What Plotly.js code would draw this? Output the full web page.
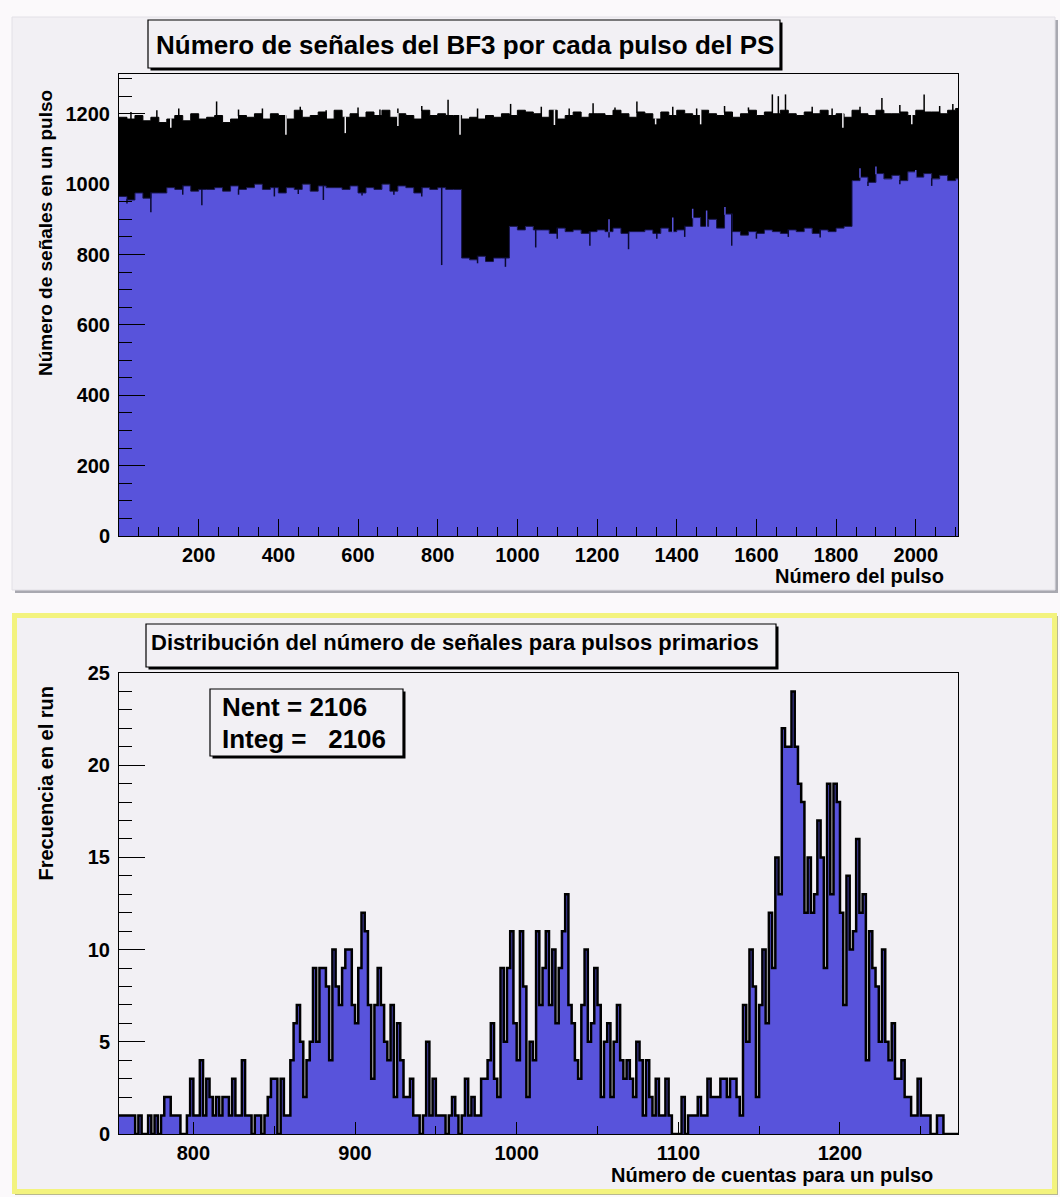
<!DOCTYPE html>
<html>
<head>
<meta charset="utf-8">
<script src="https://cdn.plot.ly/plotly-3.0.1.min.js"></script>
<style>
html,body{margin:0;padding:0;background:#fbf9fb;}
#chart{width:1060px;height:1197px;}
</style>
</head>
<body>
<div id="chart"></div>
<script>
// ---------------- DATA ----------------
// Top histogram: signals per PS pulse, sampled in steps of 20 pulses (start pulse = index*20)
const pulseStep = 20;
const pulseMax = 2106;
const upperEnvelope = [
 1190,1185,1195,1180,1190,1175,1185,1195,1180,1200,
 1185,1190,1195,1175,1185,1195,1190,1200,1185,1200,
 1195,1185,1210,1190,1195,1205,1185,1210,1190,1200,
 1190,1205,1195,1210,1190,1200,1195,1185,1210,1195,
 1200,1195,1195,1185,1190,1185,1195,1190,1200,1195,
 1210,1205,1200,1190,1210,1185,1195,1205,1190,1200,
 1200,1195,1210,1200,1190,1205,1200,1185,1205,1195,
 1210,1200,1195,1210,1200,1195,1205,1190,1200,1210,
 1195,1205,1200,1210,1200,1195,1205,1200,1210,1195,
 1200,1190,1210,1200,1195,1210,1200,1200,1205,1195,
 1210,1205,1205,1200,1210,1215
];
const lowerEnvelope = [
 965,955,975,960,975,975,990,985,995,980,
 985,985,990,980,995,985,990,1000,985,990,
 975,990,985,1000,980,995,990,990,985,995,
 975,990,985,1000,980,995,990,975,990,985,
 990,985,985,790,785,795,780,790,790,880,
 870,880,870,870,860,875,865,870,860,865,
 870,865,875,860,865,865,870,860,875,865,
 870,880,905,880,900,875,915,865,855,865,
 860,870,865,860,870,865,875,860,870,865,
 875,880,1010,1020,1005,1030,1015,1025,1010,1035,
 1020,1030,1015,1025,1010,1015
];
// narrow spikes seen in the top histogram
const downSpikePulse = [20, 80, 160, 208, 300, 390, 450, 513, 610, 690, 760, 810, 900, 970, 1046, 1100, 1182, 1230, 1279, 1350, 1420, 1538, 1600, 1680, 1760, 1880, 1960, 2040];
const downSpikeValue = [945, 920, 970, 940, 970, 965, 972, 955, 968, 970, 965, 770, 775, 765, 820, 845, 825, 848, 815, 845, 850, 825, 845, 850, 848, 995, 1000, 995];
const upSpikePulse = [30, 95, 150, 245, 300, 360, 455, 520, 600, 655, 700, 760, 826, 900, 983, 1060, 1130, 1190, 1245, 1300, 1390, 1450, 1520, 1580, 1640, 1655, 1673, 1740, 1790, 1860, 1915, 1960, 2021, 2060, 2093];
const upSpikeValue = [1205, 1210, 1215, 1235, 1212, 1215, 1220, 1210, 1218, 1212, 1215, 1222, 1240, 1215, 1228, 1220, 1215, 1230, 1218, 1235, 1220, 1215, 1222, 1218, 1255, 1250, 1255, 1220, 1215, 1220, 1245, 1225, 1255, 1222, 1228];
const upDipPulse = [130, 419, 568, 700, 856, 1093, 1347, 1460, 1817, 1990];
const upDipValue = [1160, 1140, 1145, 1165, 1140, 1168, 1170, 1170, 1160, 1170];
const lowBumpPulse = [1230, 1390, 1440, 1475, 1521, 1860, 1900, 2000];
const lowBumpValue = [900, 905, 930, 925, 935, 1045, 1050, 1040];

// Bottom histogram: counts per 2-count bin, first bin starts at 754
const countBinStart = 754;
const countBinWidth = 2;
const countRange = [754, 1273];
const frequency = [
 1,1,1,1,1,0,1,0,0,1,
 0,1,0,1,2,2,1,1,1,0,
 0,1,3,1,1,4,1,3,2,1,
 2,1,2,2,1,3,1,1,4,1,
 1,0,1,1,0,1,2,3,3,0,
 3,1,1,4,6,7,5,2,4,5,
 9,5,9,9,8,4,10,8,7,9,
 10,10,7,6,9,12,11,7,3,7,
 9,7,5,4,7,2,6,4,2,2,
 3,1,1,0,1,5,1,3,1,1,
 1,0,1,2,1,0,1,3,1,2,
 1,1,3,3,4,6,3,2,9,5,
 9,11,6,4,11,8,2,5,4,11,
 7,9,11,7,10,6,9,11,13,7,
 6,4,3,7,10,5,6,9,7,2,
 5,6,2,5,7,4,3,4,3,2,
 5,4,1,4,2,1,3,1,1,3,
 1,0,0,0,2,0,1,1,1,2,
 1,1,3,2,2,2,3,3,2,3,
 3,2,1,7,5,10,8,2,7,10,
 6,12,9,15,13,22,21,21,24,21,
 19,18,12,15,12,13,17,15,9,19,
 13,19,18,12,7,14,10,11,16,12,
 13,4,11,9,8,5,10,5,4,6,
 3,3,4,2,2,1,1,3,1,1,
 1,0,0,1,1,0,0,0,0,0
];

// Texts and ticks
const topTitle = "Número de señales del BF3 por cada pulso del PS";
const topXTitle = "Número del pulso";
const topYTitle = "Número de señales en un pulso";
const bottomTitle = "Distribución del número de señales para pulsos primarios";
const bottomXTitle = "Número de cuentas para un pulso";
const bottomYTitle = "Frecuencia en el run";
const statsLines = ["Nent = 2106", "Integ =   2106"];
const topXTicks = [200,400,600,800,1000,1200,1400,1600,1800,2000];
const topYTicks = [0,200,400,600,800,1000,1200];
const bottomXTicks = [800,900,1000,1100,1200];
const bottomYTicks = [0,5,10,15,20,25];

// ---------------- BUILD ----------------
const W = 1060, H = 1197;
const PX = x => x / W;
const PY = y => 1 - y / H;
const FONT = "'Liberation Sans', Arial, Helvetica, sans-serif";
const BLUE = '#5853db';
const PANEL = '#f2f0f4';

const topX = upperEnvelope.map((_, i) => i * pulseStep);
topX.push(pulseMax);
const upY = upperEnvelope.concat([upperEnvelope[upperEnvelope.length - 1]]);
const loY = lowerEnvelope.concat([lowerEnvelope[lowerEnvelope.length - 1]]);

const envAt = (arr, p) => arr[Math.min(arr.length - 1, Math.floor(p / pulseStep))];

function segs(pulses, values, baseArr, offset) {
  const xs = [], ys = [];
  pulses.forEach((p, i) => { xs.push(p, p, null); ys.push(envAt(baseArr, p) + offset, values[i], null); });
  return {xs, ys};
}
const sDown = segs(downSpikePulse, downSpikeValue, lowerEnvelope, 2);
const sUp = segs(upSpikePulse, upSpikeValue, upperEnvelope, -2);
const sDip = segs(upDipPulse, upDipValue, upperEnvelope, 2);
const sBump = segs(lowBumpPulse, lowBumpValue, lowerEnvelope, -2);

const botX = frequency.map((_, i) => countBinStart + i * countBinWidth);
botX.push(countBinStart + frequency.length * countBinWidth);
const botY = frequency.concat([0]);

const seg = (s, color, w) => ({x: s.xs, y: s.ys, type: 'scatter', mode: 'lines', line: {color: color, width: w},
  xaxis: 'x', yaxis: 'y', hoverinfo: 'skip', connectgaps: false});

const traces = [
  {x: topX, y: loY, type: 'scatter', mode: 'lines', line: {shape: 'hv', color: '#14124a', width: 1},
   fill: 'tozeroy', fillcolor: BLUE, xaxis: 'x', yaxis: 'y', hoverinfo: 'skip'},
  {x: topX, y: upY, type: 'scatter', mode: 'lines', line: {shape: 'hv', color: 'black', width: 1},
   fill: 'tonexty', fillcolor: 'black', xaxis: 'x', yaxis: 'y', hoverinfo: 'skip'},
  seg(sDown, '#0a0a30', 1.5),
  seg(sBump, BLUE, 1.5),
  seg(sUp, 'black', 1.5),
  seg(sDip, PANEL, 1.5),
  {x: botX, y: botY, type: 'scatter', mode: 'lines', line: {shape: 'hv', color: 'black', width: 2.5},
   fill: 'tozeroy', fillcolor: BLUE, xaxis: 'x2', yaxis: 'y2', hoverinfo: 'skip'}
];

const tickFont = {family: FONT, size: 20, color: 'black', weight: 'bold'};
const axBase = {
  showgrid: false, zeroline: false, showline: true, linecolor: 'black', linewidth: 1, mirror: true,
  ticks: 'inside', tickcolor: 'black', tickwidth: 1, tickfont: tickFont, fixedrange: true
};
const xDom = [PX(119), PX(958)];

function boxShapes(x0, y0, x1, y1, sh) {
  return [
    {type: 'rect', xref: 'paper', yref: 'paper', x0: PX(x0 + sh), x1: PX(x1 + sh), y0: PY(y0 + sh), y1: PY(y1 + sh),
     fillcolor: 'black', line: {width: 0}, layer: 'above'},
    {type: 'rect', xref: 'paper', yref: 'paper', x0: PX(x0), x1: PX(x1), y0: PY(y0), y1: PY(y1),
     fillcolor: PANEL, line: {color: 'black', width: 1.2}, layer: 'above'}
  ];
}

const shapes = [
  // top panel
  {type: 'rect', xref: 'paper', yref: 'paper', x0: PX(15), x1: PX(1058), y0: PY(20), y1: PY(593),
   fillcolor: '#a8a8b0', line: {width: 0}, layer: 'below'},
  {type: 'rect', xref: 'paper', yref: 'paper', x0: PX(12), x1: PX(1055), y0: PY(17), y1: PY(590),
   fillcolor: PANEL, line: {color: '#e2e0e6', width: 1}, layer: 'below'},
  // bottom panel with yellow frame
  {type: 'rect', xref: 'paper', yref: 'paper', x0: PX(15), x1: PX(1058), y0: PY(616), y1: PY(1195),
   fillcolor: '#b8b890', line: {width: 0}, layer: 'below'},
  {type: 'rect', xref: 'paper', yref: 'paper', x0: PX(14.5), x1: PX(1054.5), y0: PY(615.5), y1: PY(1191.5),
   fillcolor: PANEL, line: {color: '#f3f37e', width: 5}, layer: 'below'}
].concat(
  boxShapes(148, 20, 780, 68, 2.5),
  boxShapes(146, 624, 776, 667, 2.5),
  boxShapes(210, 689, 403, 756, 2.5)
);

const annotations = [
  {text: topTitle, xref: 'paper', yref: 'paper', x: PX(154), y: PY(45), xanchor: 'left', yanchor: 'middle',
   showarrow: false, font: {family: FONT, size: 26, color: 'black', weight: 'bold'}},
  {text: bottomTitle, xref: 'paper', yref: 'paper', x: PX(149), y: PY(642), xanchor: 'left', yanchor: 'middle',
   showarrow: false, font: {family: FONT, size: 22, color: 'black', weight: 'bold'}},
  {text: statsLines[0], xref: 'paper', yref: 'paper', x: PX(220), y: PY(707), xanchor: 'left', yanchor: 'middle',
   showarrow: false, font: {family: FONT, size: 26, color: 'black', weight: 'bold'}},
  {text: statsLines[1], xref: 'paper', yref: 'paper', x: PX(220), y: PY(739), xanchor: 'left', yanchor: 'middle',
   showarrow: false, font: {family: FONT, size: 26, color: 'black', weight: 'bold'}},
  {text: topXTitle, xref: 'paper', yref: 'paper', x: PX(946), y: PY(576), xanchor: 'right', yanchor: 'middle',
   showarrow: false, font: {family: FONT, size: 20, color: 'black', weight: 'bold'}},
  {text: bottomXTitle, xref: 'paper', yref: 'paper', x: PX(935), y: PY(1175), xanchor: 'right', yanchor: 'middle',
   showarrow: false, font: {family: FONT, size: 20, color: 'black', weight: 'bold'}},
  {text: topYTitle, xref: 'paper', yref: 'paper', x: PX(45), y: PY(88), xanchor: 'center', yanchor: 'top',
   textangle: -90, showarrow: false, font: {family: FONT, size: 19, color: 'black', weight: 'bold'}},
  {text: bottomYTitle, xref: 'paper', yref: 'paper', x: PX(45), y: PY(684), xanchor: 'center', yanchor: 'top',
   textangle: -90, showarrow: false, font: {family: FONT, size: 20, color: 'black', weight: 'bold'}}
];

const layout = {
  width: W, height: H,
  margin: {l: 0, r: 0, t: 0, b: 0, pad: 0},
  paper_bgcolor: '#fbf9fb',
  plot_bgcolor: PANEL,
  showlegend: false,
  xaxis: Object.assign({}, axBase, {domain: xDom, anchor: 'y', range: [0, pulseMax],
    tickmode: 'array', tickvals: topXTicks, ticklen: 17, ticklabelstandoff: 1,
    minor: {tickmode: 'linear', tick0: 0, dtick: 50, ticks: 'inside', ticklen: 9, tickcolor: 'black', tickwidth: 1}}),
  yaxis: Object.assign({}, axBase, {domain: [PY(536), PY(74)], anchor: 'x', range: [0, 1313],
    tickmode: 'array', tickvals: topYTicks, ticklen: 26, ticklabelstandoff: 4,
    minor: {tickmode: 'linear', tick0: 0, dtick: 50, ticks: 'inside', ticklen: 13, tickcolor: 'black', tickwidth: 1}}),
  xaxis2: Object.assign({}, axBase, {domain: xDom, anchor: 'y2', range: countRange,
    tickmode: 'array', tickvals: bottomXTicks, ticklen: 12, ticklabelstandoff: 1,
    minor: {tickmode: 'linear', tick0: 0, dtick: 50, ticks: 'inside', ticklen: 8, tickcolor: 'black', tickwidth: 1}}),
  yaxis2: Object.assign({}, axBase, {domain: [PY(1134), PY(673)], anchor: 'x2', range: [0, 25],
    tickmode: 'array', tickvals: bottomYTicks, ticklen: 26, ticklabelstandoff: 4,
    minor: {tickmode: 'linear', tick0: 0, dtick: 1, ticks: 'inside', ticklen: 13, tickcolor: 'black', tickwidth: 1}}),
  shapes: shapes,
  annotations: annotations
};

Plotly.newPlot('chart', traces, layout, {staticPlot: true, displayModeBar: false});
</script>
</body>
</html>
